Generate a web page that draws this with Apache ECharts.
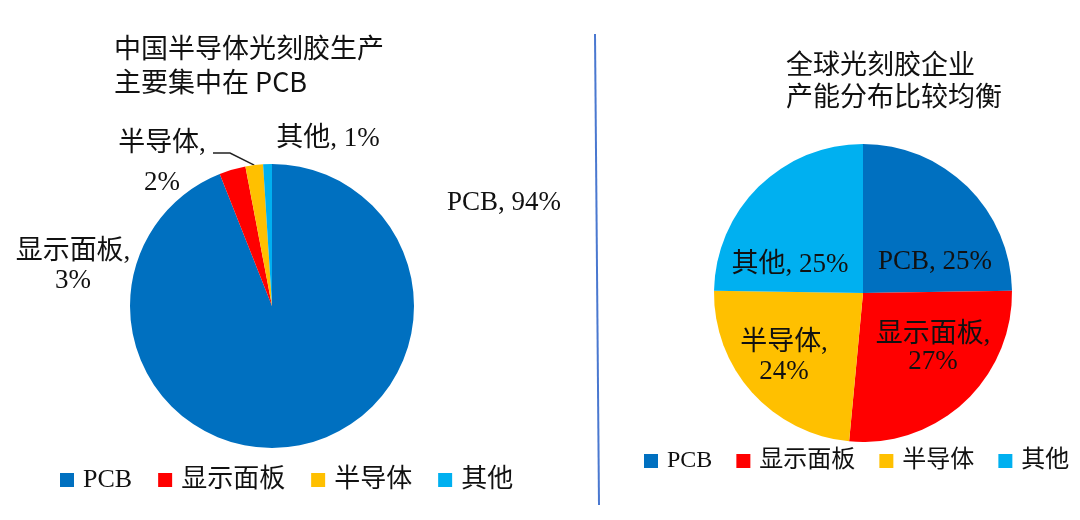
<!DOCTYPE html>
<html>
<head>
<meta charset="utf-8">
<script src="https://cdn.jsdelivr.net/npm/echarts@6/dist/echarts.min.js"></script>
<style>
html,body{margin:0;padding:0;background:#fff;}
#chart{width:1080px;height:520px;}
</style>
</head>
<body>
<div id="chart"></div>
<script>
// ---- data ----
const categories = ['PCB', '显示面板', '半导体', '其他'];
const chinaShare = [94, 3, 2, 1];
const globalShare = [25, 27, 24, 25];
const leftTitle = '中国半导体光刻胶生产\n主要集中在 PCB';
const rightTitle = '全球光刻胶企业\n产能分布比较均衡';

// ---- styling / layout (not data) ----
const colors = ['#0070C0', '#FF0000', '#FFC000', '#00B0F0'];
const serifFont = "'Liberation Serif', 'Noto Sans CJK SC', serif";
const sansFont = "'Noto Sans CJK SC', sans-serif";
const leftBreaks = [false, true, true, false];
const rightBreaks = [false, true, true, false];
const leftLabelPos = [[504, 203], [73, 266], [162, 163], [328, 139]];
const rightLabelPos = [[935, 262], [933, 348], [784, 357], [790, 265]];
const leftLineH = [30, 29, 39, 30];
const rightLineH = [30, 27, 29, 30];
const guideBend = [[230, 153], [213, 153]];

function makeData(values, breaks, lineH, withLine) {
  return categories.map((name, i) => ({
    name: name,
    value: values[i],
    label: { lineHeight: lineH[i], formatter: breaks[i] ? '{b},\n{c}%' : '{b}, {c}%' },
    labelLine: { show: withLine && i === 2 }
  }));
}

const chart = echarts.init(document.getElementById('chart'), null, { renderer: 'canvas' });

function legendOf(left, top, size, gap, w) {
  return {
    data: categories,
    left: left,
    top: top,
    width: w,
    padding: 0,
    icon: 'rect',
    itemWidth: 14,
    itemHeight: 14,
    itemGap: gap,
    selectedMode: false,
    textStyle: { fontFamily: serifFont, fontSize: size, color: '#111', padding: [0, 0, 0, 4] }
  };
}

chart.setOption({
  backgroundColor: '#fff',
  color: colors,
  animation: false,
  title: [
    { text: leftTitle, left: 109, top: 26,
      textStyle: { fontFamily: sansFont, fontSize: 27, fontWeight: 'normal', color: '#111', lineHeight: 34 } },
    { text: rightTitle, left: 781, top: 43,
      textStyle: { fontFamily: sansFont, fontSize: 27, fontWeight: 'normal', color: '#111', lineHeight: 32 } }
  ],
  legend: [
    legendOf(60, 467, 26, 26, 520),
    legendOf(644, 449, 24, 24, 436)
  ],
  graphic: [
    { type: 'line', shape: { x1: 595, y1: 34, x2: 599, y2: 505 },
      style: { stroke: '#4A78D0', lineWidth: 2 } }
  ],
  series: [
    {
      type: 'pie',
      center: [272, 306],
      radius: 142,
      startAngle: 90,
      clockwise: true,
      avoidLabelOverlap: false,
      itemStyle: { borderWidth: 0 },
      label: { show: true, position: 'outside', fontFamily: serifFont, fontSize: 27, color: '#111' },
      labelLine: { show: false, length: 12, length2: 20, lineStyle: { color: '#222', width: 1.5 } },
      emphasis: { disabled: true },
      labelLayout: function (p) {
        const pos = leftLabelPos[p.dataIndex];
        const out = { x: pos[0], y: pos[1], align: 'center', verticalAlign: 'middle' };
        if (p.dataIndex === 2 && p.labelLinePoints) {
          out.labelLinePoints = [p.labelLinePoints[0], guideBend[0], guideBend[1]];
        }
        return out;
      },
      data: makeData(chinaShare, leftBreaks, leftLineH, true)
    },
    {
      type: 'pie',
      center: [863, 293],
      radius: 149,
      startAngle: 90,
      clockwise: true,
      avoidLabelOverlap: false,
      itemStyle: { borderWidth: 0 },
      label: { show: true, position: 'inside', fontFamily: serifFont, fontSize: 27, color: '#111' },
      labelLine: { show: false },
      emphasis: { disabled: true },
      labelLayout: function (p) {
        const pos = rightLabelPos[p.dataIndex];
        return { x: pos[0], y: pos[1], align: 'center', verticalAlign: 'middle' };
      },
      data: makeData(globalShare, rightBreaks, rightLineH, false)
    }
  ]
});
</script>
</body>
</html>
